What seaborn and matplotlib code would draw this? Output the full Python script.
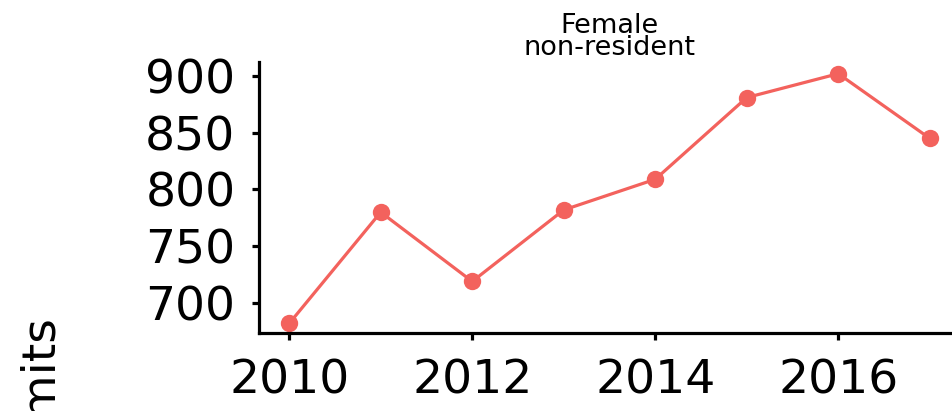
import matplotlib
matplotlib.use("Agg")
import matplotlib.pyplot as plt
import seaborn as sns
import pandas as pd

years = [2010, 2011, 2012, 2013, 2014, 2015, 2016, 2017]
permits = [682, 780, 719, 782, 809, 881, 902, 845]
x_ticks = [2010, 2012, 2014, 2016]
y_ticks = [700, 750, 800, 850, 900]
title = "Female\nnon-resident"
y_label = "Permits"

df = pd.DataFrame({"year": years, "permits": permits})

sns.set_theme(style="ticks")
plt.rcParams["font.family"] = ["DejaVu Sans"]

fig = plt.figure(figsize=(9.52, 4.11), dpi=100)
ax = fig.add_axes([259 / 952, 1 - 333 / 411, (960 - 259) / 952, (333 - 62) / 411])

sns.lineplot(data=df, x="year", y="permits", ax=ax, color="#F3625D",
             linewidth=2.3, marker="o", markersize=12.5,
             markeredgewidth=0, markeredgecolor="#F3625D")

ax.set_xlim(2009.67, 2017.33)
ax.set_ylim(673.6, 912.3)
ax.set_xticks(x_ticks)
ax.set_xticklabels([str(t) for t in x_ticks])
ax.set_yticks(y_ticks)
ax.set_yticklabels([str(t) for t in y_ticks])
ax.set_xlabel("")
ax.set_ylabel("")

sns.despine(ax=ax)
for s in ["left", "bottom"]:
    ax.spines[s].set_linewidth(2.3)
    ax.spines[s].set_color("black")
ax.tick_params(axis="both", length=5, width=2.3, color="black",
               labelsize=34, labelcolor="black")
ax.tick_params(axis="y", pad=12)
ax.tick_params(axis="x", pad=13)

ax.set_title(title, fontsize=19.5, pad=5, linespacing=0.82, color="black")

fig.text(0.04, 1 - 313 / 411, y_label, rotation=90, fontsize=34,
         ha="center", va="top", color="black")

fig.savefig("out.png", dpi=100)
